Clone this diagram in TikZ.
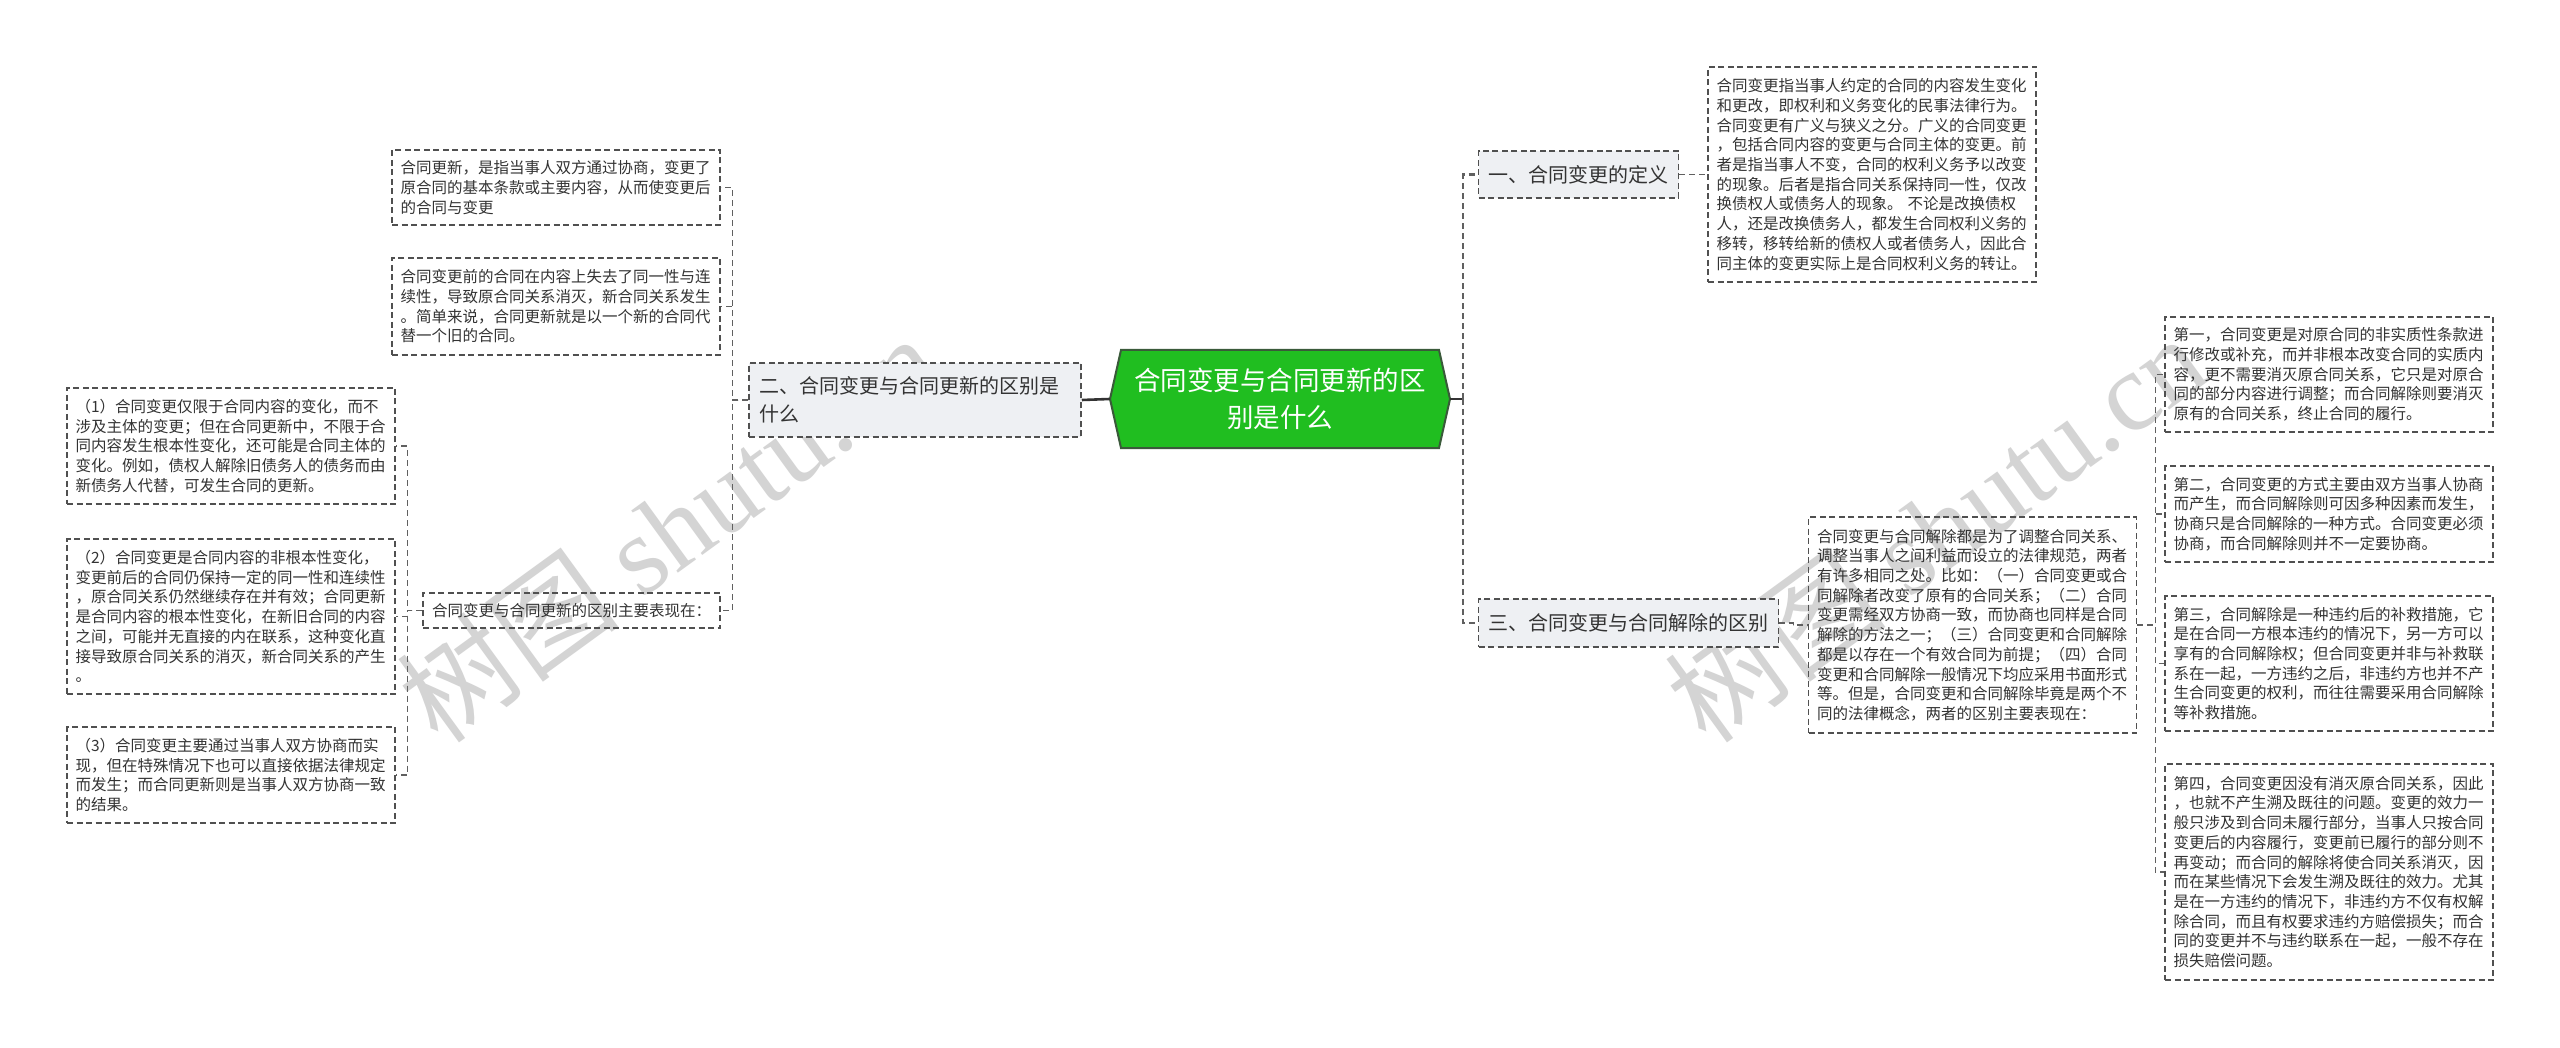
\documentclass[tikz,border=0pt]{standalone}
\usepackage{fontspec}
\setmainfont{Noto Sans CJK SC}
\newfontfamily\wmlatin{Liberation Serif}
\definecolor{boxline}{HTML}{505050}
\definecolor{linkc}{HTML}{606060}
\definecolor{branchfill}{HTML}{EEF0F3}
\definecolor{rootfill}{HTML}{20BE20}
\definecolor{rootline}{HTML}{3A5A3A}
\definecolor{txtc}{HTML}{333333}
\definecolor{wmc}{HTML}{D4D4D4}
\begin{document}
\begin{tikzpicture}[x=1pt,y=-1pt,
  leaf/.style={draw=boxline, line width=1.5pt, dash pattern=on 6pt off 3.5pt, text=txtc,
    font=\fontsize{15.5}{19.7}\selectfont, align=left, text width=311pt,
    inner xsep=8.5pt, inner ysep=0pt},
  leafline/.style={draw=boxline, line width=1.5pt, dash pattern=on 6pt off 3.5pt, text=txtc,
    font=\fontsize{15.5}{19.7}\selectfont, inner xsep=9pt, inner ysep=0pt, minimum height=35pt},
  branch/.style={draw=boxline, line width=1.5pt, dash pattern=on 6pt off 3.5pt, fill=branchfill,
    text=txtc, font=\fontsize{20}{28}\selectfont, align=left, inner xsep=10pt, inner ysep=0pt},
  link/.style={draw=linkc, line width=1.5pt, dash pattern=on 6pt off 4pt},
  toplink/.style={draw=linkc, line width=2.2pt, dash pattern=on 6pt off 4pt},
  mainlink/.style={draw=txtc, line width=2.6pt},
  wm/.style={text=wmc, font=\fontsize{112}{112}\selectfont, inner sep=0pt},
]
\useasboundingbox (0,0) rectangle (2560,1048);
\fill[white] (0,0) rectangle (2560,1048);

% watermarks
\node[wm, rotate=36] (W1) at (668,528) {树图 {\wmlatin shutu.cn}};
\node[wm, rotate=36] (W2) at (1935,528) {树图 {\wmlatin shutu.cn}};

% root
\fill[rootfill] (1121,350) -- (1439,350) -- (1450,399) -- (1439,448) -- (1121,448) -- (1110,399) -- cycle;
\draw[rootline, line width=2pt] (1121,350) -- (1439,350) -- (1450,399) -- (1439,448) -- (1121,448) -- (1110,399) -- cycle;
\node[minimum width=340pt, minimum height=98pt, inner sep=0pt, text=white,
  font=\fontsize{26.5}{37}\selectfont, align=center] (C) at (1280,399)
  {合同变更与合同更新的区\\别是什么};

% left side
\node[branch, text width=312pt, minimum height=74pt] (B2) at (915,400)
  {二、合同变更与合同更新的区别是\\什么};
\node[leaf, minimum height=75pt] (L1) at (556,187.5)
  {合同更新，是指当事人双方通过协商，变更了\\原合同的基本条款或主要内容，从而使变更后\\的合同与变更};
\node[leaf, minimum height=97pt] (L2) at (556,306.5)
  {合同变更前的合同在内容上失去了同一性与连\\续性，导致原合同关系消灭，新合同关系发生\\。简单来说，合同更新就是以一个新的合同代\\替一个旧的合同。};
\node[leafline, minimum width=297pt] (L3) at (571.5,610.5)
  {合同变更与合同更新的区别主要表现在：};
\node[leaf, minimum height=116pt] (LL1) at (231,446)
  {（1）合同变更仅限于合同内容的变化，而不\\涉及主体的变更；但在合同更新中，不限于合\\同内容发生根本性变化，还可能是合同主体的\\变化。例如，债权人解除旧债务人的债务而由\\新债务人代替，可发生合同的更新。};
\node[leaf, minimum height=155pt] (LL2) at (231,616.5)
  {（2）合同变更是合同内容的非根本性变化，\\变更前后的合同仍保持一定的同一性和连续性\\，原合同关系仍然继续存在并有效；合同更新\\是合同内容的根本性变化，在新旧合同的内容\\之间，可能并无直接的内在联系，这种变化直\\接导致原合同关系的消灭，新合同关系的产生\\。};
\node[leaf, minimum height=96pt] (LL3) at (231,775)
  {（3）合同变更主要通过当事人双方协商而实\\现，但在特殊情况下也可以直接依据法律规定\\而发生；而合同更新则是当事人双方协商一致\\的结果。};

% right side
\node[branch, minimum height=47pt] (B1) at (1578.5,174.5) {一、合同变更的定义};
\node[leaf, minimum height=215pt] (D) at (1872,174.5)
  {合同变更指当事人约定的合同的内容发生变化\\和更改，即权利和义务变化的民事法律行为。\\合同变更有广义与狭义之分。广义的合同变更\\，包括合同内容的变更与合同主体的变更。前\\者是指当事人不变，合同的权利义务予以改变\\的现象。后者是指合同关系保持同一性，仅改\\换债权人或债务人的现象。 不论是改换债权\\人，还是改换债务人，都发生合同权利义务的\\移转，移转给新的债权人或者债务人，因此合\\同主体的变更实际上是合同权利义务的转让。};
\node[branch, minimum height=48pt] (B3) at (1628.5,623) {三、合同变更与合同解除的区别};
\node[leaf, minimum height=216pt] (J) at (1972.5,625)
  {合同变更与合同解除都是为了调整合同关系、\\调整当事人之间利益而设立的法律规范，两者\\有许多相同之处。比如：（一）合同变更或合\\同解除者改变了原有的合同关系；（二）合同\\变更需经双方协商一致，而协商也同样是合同\\解除的方法之一；（三）合同变更和合同解除\\都是以存在一个有效合同为前提；（四）合同\\变更和合同解除一般情况下均应采用书面形式\\等。但是，合同变更和合同解除毕竟是两个不\\同的法律概念，两者的区别主要表现在：};
\node[leaf, minimum height=115pt] (R1) at (2329,374.5)
  {第一，合同变更是对原合同的非实质性条款进\\行修改或补充，而并非根本改变合同的实质内\\容，更不需要消灭原合同关系，它只是对原合\\同的部分内容进行调整；而合同解除则要消灭\\原有的合同关系，终止合同的履行。};
\node[leaf, minimum height=96pt] (R2) at (2329,514)
  {第二，合同变更的方式主要由双方当事人协商\\而产生，而合同解除则可因多种因素而发生，\\协商只是合同解除的一种方式。合同变更必须\\协商，而合同解除则并不一定要协商。};
\node[leaf, minimum height=135pt] (R3) at (2329,663.5)
  {第三，合同解除是一种违约后的补救措施，它\\是在合同一方根本违约的情况下，另一方可以\\享有的合同解除权；但合同变更并非与补救联\\系在一起，一方违约之后，非违约方也并不产\\生合同变更的权利，而往往需要采用合同解除\\等补救措施。};
\node[leaf, minimum height=216pt] (R4) at (2329,872)
  {第四，合同变更因没有消灭原合同关系，因此\\，也就不产生溯及既往的问题。变更的效力一\\般只涉及到合同未履行部分，当事人只按合同\\变更后的内容履行，变更前已履行的部分则不\\再变动；而合同的解除将使合同关系消灭，因\\而在某些情况下会发生溯及既往的效力。尤其\\是在一方违约的情况下，非违约方不仅有权解\\除合同，而且有权要求违约方赔偿损失；而合\\同的变更并不与违约联系在一起，一般不存在\\损失赔偿问题。};

% connectors
\draw[mainlink] (C.west) -- (B2.east);
\coordinate (RT) at (1463,399);
\draw[mainlink] (C.east) -- (RT);
\draw[toplink] (RT) |- (B1.west);
\draw[toplink] (RT) |- (B3.west);

\draw[link] (B2.west) -- ++(-16,0) |- (L1.east);
\draw[link] (B2.west) -- ++(-16,0) |- (L2.east);
\draw[link] (B2.west) -- ++(-16,0) |- (L3.east);

\draw[link] (L3.west) -- ++(-15,0) |- (LL1.east);
\draw[link] (L3.west) -- ++(-15,0) |- (LL2.east);
\draw[link] (L3.west) -- ++(-15,0) |- (LL3.east);

\draw[link] (B1.east) -- (D.west);
\draw[link] (B3.east) -- ++(14,0) |- (J.west);

\draw[link] (J.east) -- ++(18,0) |- (R1.west);
\draw[link] (J.east) -- ++(18,0) |- (R2.west);
\draw[link] (J.east) -- ++(18,0) |- (R3.west);
\draw[link] (J.east) -- ++(18,0) |- (R4.west);
\end{tikzpicture}
\end{document}
